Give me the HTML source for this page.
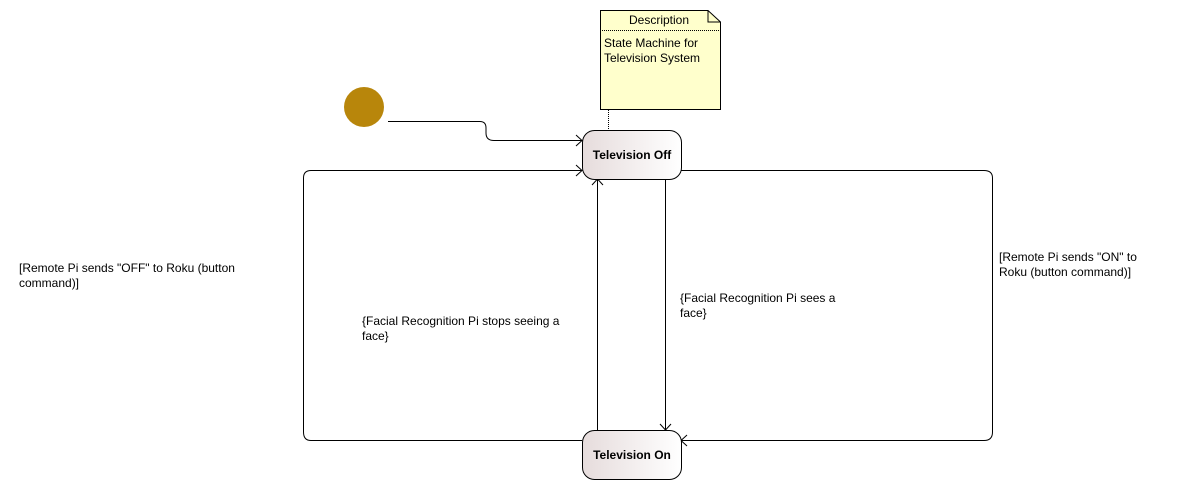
<!DOCTYPE html>
<html><head><style>
body{margin:0;width:1190px;height:490px;background:#fff;overflow:hidden;font-family:"Liberation Sans",sans-serif;}
</style></head><body>
<svg width="1190" height="490" xmlns="http://www.w3.org/2000/svg" font-family="Liberation Sans, sans-serif">
<defs>
<linearGradient id="g" x1="0" x2="1" y1="0" y2="0"><stop offset="0" stop-color="#e6dcdc"/><stop offset="1" stop-color="#ffffff"/></linearGradient>
</defs>
<!-- note -->
<path d="M600.5 10.5 H708 L720.5 22 V109.5 H600.5 Z" fill="#ffffcc" stroke="#000"/>
<path d="M708 10.5 V22 H720.5" fill="none" stroke="#000"/>
<line x1="600" y1="30.5" x2="720" y2="30.5" stroke="#000" stroke-dasharray="1,1"/>
<text x="659" y="24" font-size="12" text-anchor="middle" fill="#000">Description</text>
<text x="604" y="47" font-size="12" fill="#000">State Machine for</text>
<text x="604" y="62" font-size="12" fill="#000">Television System</text>
<line x1="608.5" y1="110" x2="608.5" y2="130" stroke="#000" stroke-dasharray="1,1"/>
<!-- initial -->
<circle cx="364" cy="107" r="20" fill="#b8860b"/>
<path d="M388 121.5 H480 Q486 121.5 486 128 V133 Q486 140.5 494 140.5 H582" fill="none" stroke="#000"/>
<path d="M576 135 L582 140.5 L576 146" fill="none" stroke="#000"/>
<!-- left loop -->
<path d="M582 440.5 H311 Q303.5 440.5 303.5 432 V178 Q303.5 170.5 311 170.5 H582" fill="none" stroke="#000"/>
<path d="M576 165 L582 170.5 L576 176" fill="none" stroke="#000"/>
<!-- right loop -->
<path d="M681 170.5 H984 Q992.5 170.5 992.5 178 V432 Q992.5 440.5 984 440.5 H681" fill="none" stroke="#000"/>
<path d="M687 435 L681 440.5 L687 446" fill="none" stroke="#000"/>
<!-- verticals -->
<line x1="597.5" y1="430" x2="597.5" y2="179" stroke="#000"/>
<path d="M592 185 L597.5 179 L603 185" fill="none" stroke="#000"/>
<line x1="665.5" y1="179" x2="665.5" y2="430" stroke="#000"/>
<path d="M660 424 L665.5 430 L671 424" fill="none" stroke="#000"/>
<!-- states -->
<rect x="582.5" y="130.5" width="99" height="49" rx="12" fill="url(#g)" stroke="#000"/>
<text x="632" y="159" font-size="12" font-weight="bold" text-anchor="middle" fill="#000">Television Off</text>
<rect x="582.5" y="430.5" width="99" height="49" rx="12" fill="url(#g)" stroke="#000"/>
<text x="632" y="459" font-size="12" font-weight="bold" text-anchor="middle" fill="#000">Television On</text>
<!-- labels -->
<text font-size="12" fill="#000"><tspan x="19" y="272">[Remote Pi sends "OFF" to Roku (button</tspan><tspan x="19" y="287">command)]</tspan></text>
<text font-size="12" fill="#000"><tspan x="999" y="261">[Remote Pi sends "ON" to</tspan><tspan x="999" y="276">Roku (button command)]</tspan></text>
<text font-size="12" fill="#000"><tspan x="362" y="325">{Facial Recognition Pi stops seeing a</tspan><tspan x="362" y="340">face}</tspan></text>
<text font-size="12" fill="#000"><tspan x="680" y="302">{Facial Recognition Pi sees a</tspan><tspan x="680" y="317">face}</tspan></text>
</svg>
</body></html>
